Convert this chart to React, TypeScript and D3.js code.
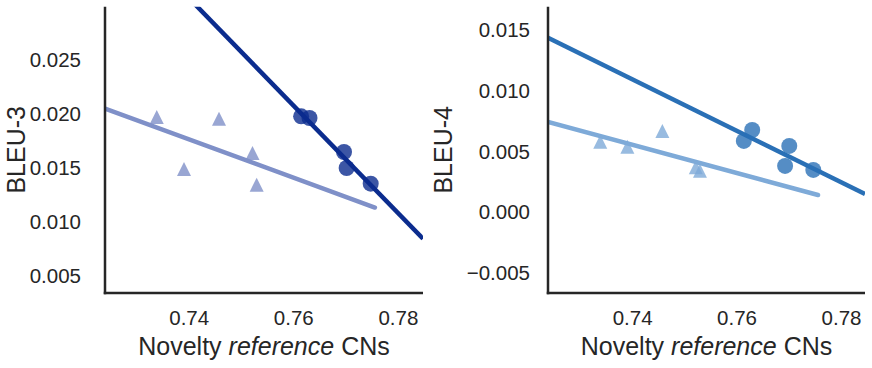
import { useEffect, useRef } from "react";
import * as d3 from "d3";

// novelty values (x) for the two groups
const triNovelty = [0.7338, 0.7390, 0.7457, 0.7521, 0.7529];
const circNoveltyB3 = [0.7614, 0.7630, 0.7696, 0.7701, 0.7747];
const circNoveltyB4 = [0.7613, 0.7629, 0.7700, 0.7692, 0.7746];

// BLEU-3 scores
const triBleu3 = [0.01969, 0.01488, 0.01954, 0.01636, 0.01343];
const circBleu3 = [0.01975, 0.01960, 0.01645, 0.01497, 0.01352];

// BLEU-4 scores
const triBleu4 = [0.00580, 0.00539, 0.00668, 0.00369, 0.00341];
const circBleu4 = [0.005857, 0.006763, 0.005445, 0.003797, 0.003468];

const xTicks = [0.74, 0.76, 0.78];
const yTicksB3 = [0.005, 0.010, 0.015, 0.020, 0.025];
const yTicksB4 = [-0.005, 0.000, 0.005, 0.010, 0.015];

const width = 872;
const height = 368;
const top = 6.7;
const bottom = 293;

const panels = [
    {
        id: "b3", label: "BLEU-3", left: 105, right: 423,
        xDomain: [0.7239, 0.7847], yDomain: [0.0034, 0.0299], yTicks: yTicksB3,
        tri: triBleu3, circ: circBleu3, circX: circNoveltyB3,
        dark: "#0b2c8e", light: "#7f90c8", yLabelX: 25, tickGap: 24,
    },
    {
        id: "b4", label: "BLEU-4", left: 548, right: 865,
        xDomain: [0.7238, 0.7845], yDomain: [-0.00667, 0.01692], yTicks: yTicksB4,
        tri: triBleu4, circ: circBleu4, circX: circNoveltyB4,
        dark: "#2a70b6", light: "#7eaad8", yLabelX: 452, tickGap: 18,
    },
];

// light (triangle) regression lines stop where the xlim was when they were drawn
const triLineEnd = 0.7755;

const fit = (xs: number[], ys: number[]) => {
    const mx = d3.mean(xs)!;
    const my = d3.mean(ys)!;
    const sxy = d3.sum(xs, (x, i) => (x - mx) * (ys[i] - my));
    const sxx = d3.sum(xs, x => (x - mx) ** 2);
    const slope = sxy / sxx;
    return (x: number) => my + slope * (x - mx);
};

const drawChart = (node: SVGSVGElement) => {
    const svg = d3.select(node);
    svg.selectAll("*").remove();

    const font = "'Liberation Sans', Arial, sans-serif";
    const axisColor = "#262626";

    panels.forEach(p => {
        const x = d3.scaleLinear().domain(p.xDomain).range([p.left, p.right]);
        const y = d3.scaleLinear().domain(p.yDomain).range([bottom, top]);

        svg.append("clipPath").attr("id", `clip-${p.id}`)
            .append("rect")
            .attr("x", p.left).attr("y", top)
            .attr("width", p.right - p.left).attr("height", bottom - top);

        const g = svg.append("g").attr("clip-path", `url(#clip-${p.id})`);

        const line = d3.line<number>().x(d => x(d[0])).y(d => y(d[1]));

        // triangles + fit
        const triFit = fit(triNovelty, p.tri);
        const x0 = p.xDomain[0];
        g.append("path")
            .attr("d", line([[x0, triFit(x0)], [triLineEnd, triFit(triLineEnd)]] as any))
            .attr("stroke", p.light).attr("stroke-width", 4.5)
            .attr("fill", "none").attr("stroke-linecap", "round");

        const s = 7;
        g.selectAll(".tri")
            .data(triNovelty.map((v, i) => [v, p.tri[i]]))
            .join("path")
            .attr("d", d => {
                const cx = x(d[0]);
                const cy = y(d[1]);
                return `M${cx},${cy - s}L${cx - s},${cy + s}L${cx + s},${cy + s}Z`;
            })
            .attr("fill", p.light).attr("fill-opacity", 0.8);

        // circles + fit
        const circFit = fit(p.circX, p.circ);
        const x1 = p.xDomain[1];
        g.append("path")
            .attr("d", line([[x0, circFit(x0)], [x1, circFit(x1)]] as any))
            .attr("stroke", p.dark).attr("stroke-width", 4.5)
            .attr("fill", "none");

        g.selectAll(".circ")
            .data(p.circX.map((v, i) => [v, p.circ[i]]))
            .join("circle")
            .attr("cx", d => x(d[0])).attr("cy", d => y(d[1]))
            .attr("r", 8)
            .attr("fill", p.dark).attr("fill-opacity", 0.8);

        // spines
        svg.append("line")
            .attr("x1", p.left).attr("x2", p.left)
            .attr("y1", top).attr("y2", bottom + 1.25)
            .attr("stroke", axisColor).attr("stroke-width", 2.5);
        svg.append("line")
            .attr("x1", p.left - 1.25).attr("x2", p.right)
            .attr("y1", bottom).attr("y2", bottom)
            .attr("stroke", axisColor).attr("stroke-width", 2.5);

        // tick labels
        svg.append("g")
            .attr("font-family", font).attr("font-size", 20.5).attr("fill", axisColor)
            .attr("text-anchor", "middle")
            .selectAll("text")
            .data(xTicks)
            .join("text")
            .attr("x", d => x(d)).attr("y", 325)
            .text(d => d3.format(".2f")(d));

        svg.append("g")
            .attr("font-family", font).attr("font-size", 20.5).attr("fill", axisColor)
            .attr("text-anchor", "end")
            .selectAll("text")
            .data(p.yTicks)
            .join("text")
            .attr("x", p.left - p.tickGap).attr("y", d => y(d))
            .attr("dy", "0.36em")
            .text(d => d3.format(".3f")(d).replace("-", "\u2212"));

        // axis labels
        const xl = svg.append("text")
            .attr("font-family", font).attr("font-size", 25).attr("fill", axisColor)
            .attr("text-anchor", "middle")
            .attr("x", (p.left + p.right) / 2).attr("y", 355);
        xl.append("tspan").text("Novelty ");
        xl.append("tspan").attr("font-style", "italic").text("reference");
        xl.append("tspan").text(" CNs");

        svg.append("text")
            .attr("font-family", font).attr("font-size", 25).attr("fill", axisColor)
            .attr("text-anchor", "middle")
            .attr("transform", `translate(${p.yLabelX},${(top + bottom) / 2}) rotate(-90)`)
            .text(p.label);
    });
};

export default function App() {
    const ref = useRef<SVGSVGElement>(null);

    useEffect(() => {
        if (ref.current) drawChart(ref.current);
    }, []);

    return (
        <svg
            ref={ref}
            width={width}
            height={height}
            style={{ position: "absolute", left: 0, top: 0, background: "white" }}
        />
    );
}
